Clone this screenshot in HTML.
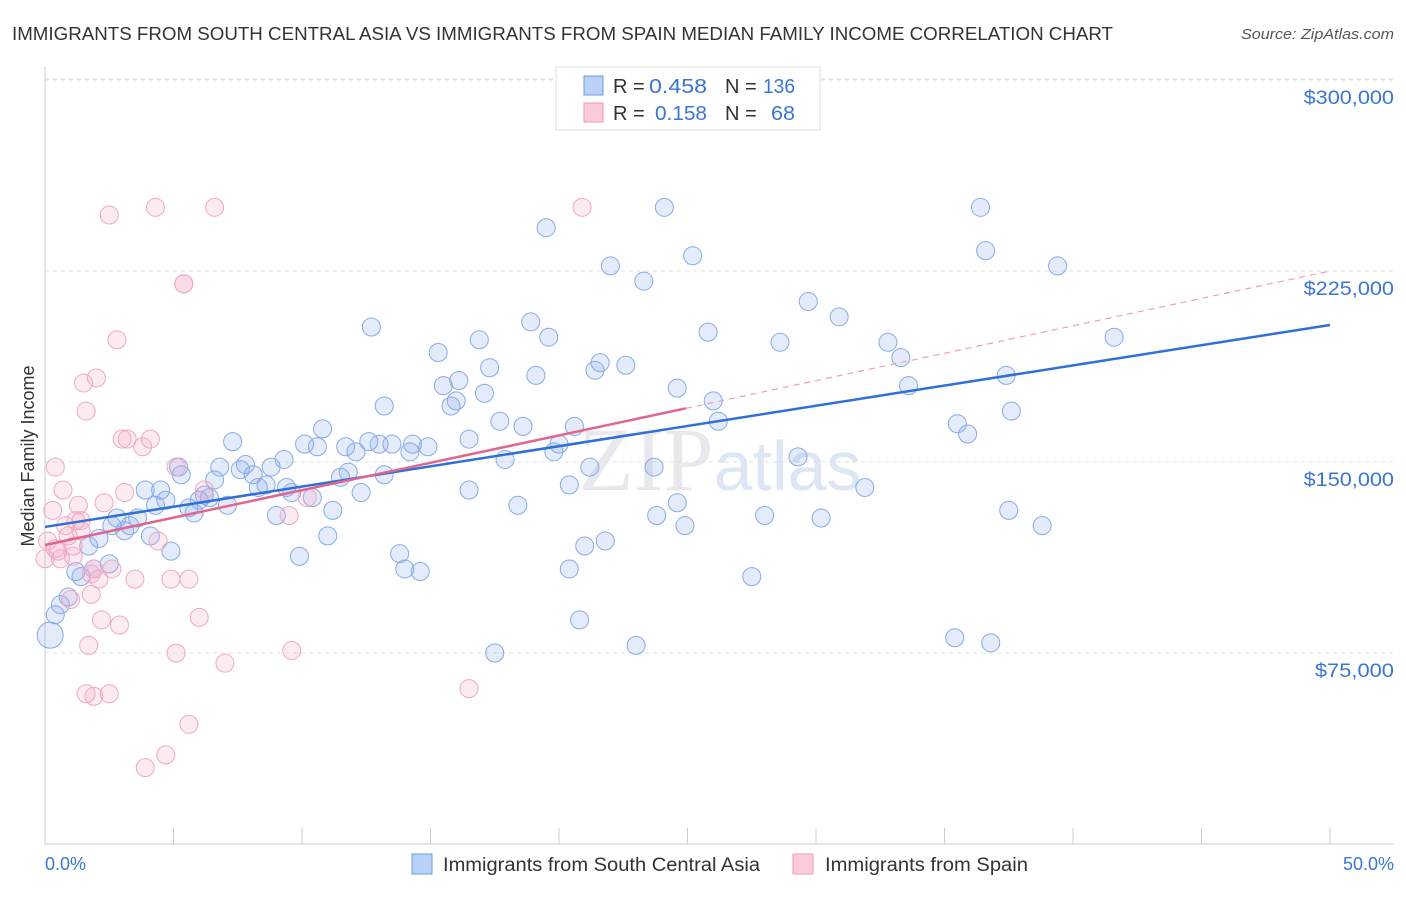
<!DOCTYPE html>
<html><head><meta charset="utf-8"><style>
body{margin:0;background:#fff;font-family:"Liberation Sans",sans-serif}
</style></head><body>
<svg width="1406" height="892" xmlns="http://www.w3.org/2000/svg" font-family="Liberation Sans, sans-serif">
<text x="12" y="40" font-size="18" fill="#333" textLength="1101" lengthAdjust="spacingAndGlyphs">IMMIGRANTS FROM SOUTH CENTRAL ASIA VS IMMIGRANTS FROM SPAIN MEDIAN FAMILY INCOME CORRELATION CHART</text>
<text x="1241" y="39" font-size="15" fill="#555" textLength="153" lengthAdjust="spacingAndGlyphs" font-style="italic">Source: ZipAtlas.com</text>
<text x="720" y="490" font-size="90" fill="#e8e8ee" text-anchor="middle" font-family="Liberation Serif, serif">ZIP<tspan fill="#dde6f4" font-family="Liberation Sans, sans-serif" font-size="70">atlas</tspan></text>
<g id="grid"></g><g id="axes"></g><g id="pts"></g><g id="lines"></g>
<text transform="translate(34,456) rotate(-90)" font-size="18" fill="#333" text-anchor="middle">Median Family Income</text>
<text x="45" y="870" font-size="18" fill="#3a75d6">0.0%</text>
<text x="1394" y="870" font-size="18" fill="#3a75d6" text-anchor="end">50.0%</text>
<g>
<rect x="556" y="67" width="264" height="63" fill="#fff" stroke="#ddd"/>
<rect x="584" y="76" width="19" height="19" fill="#b9d2f6" stroke="#6f9be0"/>
<rect x="584" y="103" width="19" height="19" fill="#fbcadb" stroke="#ef9ab5"/>
<text x="613" y="93" font-size="20" fill="#333">R =</text>
<text x="649" y="93" font-size="20" fill="#3a75d6" textLength="58" lengthAdjust="spacingAndGlyphs">0.458</text>
<text x="725" y="93" font-size="20" fill="#333">N =</text>
<text x="763" y="93" font-size="20" fill="#3a75d6" textLength="32" lengthAdjust="spacingAndGlyphs">136</text>
<text x="613" y="120" font-size="20" fill="#333">R =</text>
<text x="655" y="120" font-size="20" fill="#3a75d6" textLength="52" lengthAdjust="spacingAndGlyphs">0.158</text>
<text x="725" y="120" font-size="20" fill="#333">N =</text>
<text x="771" y="120" font-size="20" fill="#3a75d6" textLength="24" lengthAdjust="spacingAndGlyphs">68</text>
</g>
<g>
<rect x="412" y="854" width="20" height="20" fill="#b9d2f6" stroke="#6f9be0"/>
<text x="443" y="871" font-size="19" fill="#333" textLength="317" lengthAdjust="spacingAndGlyphs">Immigrants from South Central Asia</text>
<rect x="793" y="854" width="20" height="20" fill="#fbcadb" stroke="#ef9ab5"/>
<text x="825" y="871" font-size="19" fill="#333" textLength="203" lengthAdjust="spacingAndGlyphs">Immigrants from Spain</text>
</g>
</svg>
<script>
const yTicks=[75000,150000,225000,300000];
const yTickLabels=["$75,000","$150,000","$225,000","$300,000"];
const xTicks=[0,5,10,15,20,25,30,35,40,45,50];
const blueX=[0.2,0.4,0.6,0.9,1.2,1.4,1.7,1.9,2.1,2.5,2.6,2.8,3.1,3.3,3.6,3.9,4.1,4.3,4.5,4.7,4.9,5.2,5.3,5.6,5.8,6.0,6.2,6.4,6.6,6.8,7.1,7.3,7.6,7.8,8.1,8.3,8.6,8.8,9.0,9.3,9.4,9.6,9.9,10.1,10.4,10.6,10.8,11.0,11.2,11.5,11.8,11.7,12.1,12.3,12.6,12.7,13.0,13.2,13.2,13.5,13.8,14.0,14.2,14.3,14.6,14.9,15.3,15.5,15.8,16.0,16.1,16.5,16.5,16.9,17.1,17.3,17.7,17.9,18.4,18.6,18.9,19.1,19.5,19.6,19.8,20.0,20.4,20.4,20.6,20.8,21.0,21.2,21.4,21.6,21.8,22.0,22.6,23.3,23.7,23.8,24.1,24.6,24.6,24.9,25.2,17.5,23.0,25.8,26.0,26.2,27.5,28.0,28.6,29.3,29.7,30.2,30.9,31.9,32.8,33.3,33.6,35.4,35.5,35.9,36.4,36.6,36.8,37.4,37.5,37.6,38.8,39.4,41.6];
const blueY=[82,90,94,97,107,105,117,108,120,110,125,128,123,125,128,139,121,133,139,135,115,148,145,132,130,135,137,136,143,148,133,158,147,149,145,140,141,148,129,151,140,138,113,157,136,156,163,121,131,144,146,156,154,138,158,203,157,172,145,157,114,108,154,157,107,156,193,180,172,174,182,139,159,198,177,187,166,151,133,164,205,184,242,199,154,157,108,141,164,88,117,148,186,189,119,227,188,221,148,129,250,179,134,125,231,75,78,201,174,166,105,129,197,152,213,128,207,140,197,191,180,81,165,161,250,233,79,184,131,170,125,227,199];
const pinkX=[0.0,0.1,0.3,0.4,0.5,0.7,0.8,1.0,1.1,1.2,1.3,1.4,1.5,1.6,1.6,1.7,1.8,1.9,1.9,2.0,2.1,2.2,2.3,2.5,2.5,2.6,2.8,2.9,3.0,3.1,3.2,3.5,3.8,3.9,4.1,4.3,4.4,4.7,4.9,5.1,5.1,5.4,5.4,5.6,5.6,6.0,6.2,6.6,7.0,9.5,9.6,10.2,16.5,20.9,0.4,0.6,0.9,1.1,1.4,1.8];
const pinkY=[112,119,131,148,115,139,125,96,117,127,133,123,181,170,59,78,98,58,108,183,104,88,134,59,247,108,198,86,159,138,159,104,156,30,159,250,119,35,104,148,75,220,220,47,104,89,139,250,71,129,76,136,61,250,116,112,121,113,127,106];
const blueTrend=[124.5,203.8];
const pinkTrend=[117.4,225];
const pinkSolidEnd=24.94;
const NS="http://www.w3.org/2000/svg";
const X=v=>45+v/50*1285;
const Y=k=>844-k*1000/75000*191;
function mk(t,a,p){const e=document.createElementNS(NS,t);for(const k in a)e.setAttribute(k,a[k]);p.appendChild(e);return e;}
const g=document.getElementById('grid'),ax=document.getElementById('axes'),pts=document.getElementById('pts'),ln=document.getElementById('lines');
yTicks.forEach((v,i)=>{
 const l=mk('line',{x1:45,x2:1394,y1:Y(v/1000),y2:Y(v/1000),stroke:'#e2e2e2','stroke-dasharray':'4,4'},g);
 
 
 const t=mk('text',{x:1394,y:Y(v/1000)+24,'font-size':19,fill:'#3a75d6','text-anchor':'end'},g);
 t.textContent=yTickLabels[i];
 t.setAttribute('textLength',yTickLabels[i].length*11.3);
 t.setAttribute('lengthAdjust','spacingAndGlyphs');
 
 
});
const tl=mk('line',{x1:45,x2:1394,y1:79,y2:79,stroke:'#e2e2e2','stroke-dasharray':'4,4'},g);


const xa=mk('line',{x1:45,x2:1394,y1:844,y2:844,stroke:'#ccc'},ax);


const ya=mk('line',{x1:45,x2:45,y1:67,y2:844,stroke:'#ccc'},ax);


xTicks.forEach(v=>{const t=mk('line',{x1:X(v),x2:X(v),y1:828,y2:844,stroke:'#ccc'},ax);
 
 });
blueX.forEach((x,i)=>{const c=mk('circle',{cx:X(x),cy:Y(blueY[i]),r:i==0?13:9,fill:'rgba(130,170,235,0.22)',stroke:'#86abe6','stroke-width':1},pts);
 
 });
pinkX.forEach((x,i)=>{const c=mk('circle',{cx:X(x),cy:Y(pinkY[i]),r:9,fill:'rgba(245,165,195,0.22)',stroke:'#f0a8c0','stroke-width':1},pts);
 
 });
const bl=mk('line',{x1:X(0),y1:Y(blueTrend[0]),x2:X(50),y2:Y(blueTrend[1]),stroke:'#2f6fd6','stroke-width':2.5},ln);


const pm=pinkTrend[0]+(pinkTrend[1]-pinkTrend[0])*pinkSolidEnd/50;
const pl=mk('line',{x1:X(0),y1:Y(pinkTrend[0]),x2:X(pinkSolidEnd),y2:Y(pm),stroke:'#e0668f','stroke-width':2.5},ln);


const pd=mk('line',{x1:X(pinkSolidEnd),y1:Y(pm),x2:X(50),y2:Y(pinkTrend[1]),stroke:'#e8a0b8','stroke-width':1.2,'stroke-dasharray':'6,5'},ln);


</script>
</body></html>
